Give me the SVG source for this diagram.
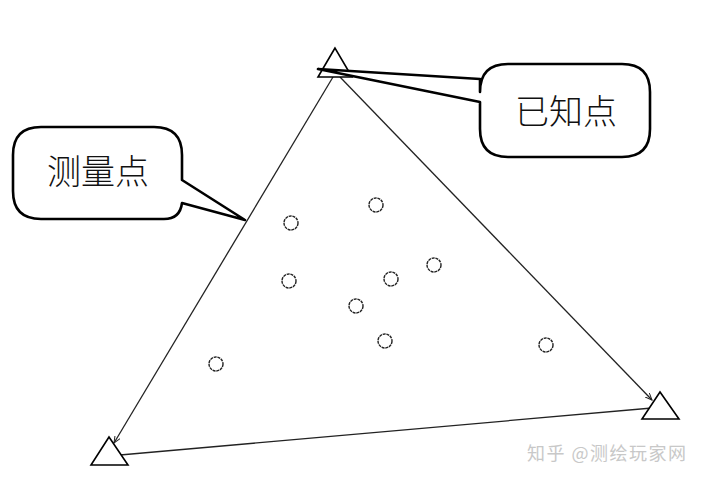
<svg xmlns="http://www.w3.org/2000/svg" width="708" height="481" viewBox="0 0 708 481">
<style>
.edge{stroke:#222;stroke-width:1.3;fill:none}
.tri{fill:#fff;stroke:#000;stroke-width:1.6}
.pt{fill:none;stroke:#222;stroke-width:1.4;stroke-dasharray:3 0.8}
.call{fill:#fff;stroke:#000;stroke-width:2.6;stroke-linejoin:round}
.lbl{font-family:"Liberation Serif","Noto Sans CJK SC",serif;font-size:34px;font-weight:300;fill:#111}
.wm{font-family:"Noto Sans CJK SC",sans-serif;font-size:18px;letter-spacing:1.5px;fill:#c8c8c8}
</style>
<defs>
<marker id="ah" markerWidth="8" markerHeight="6" refX="7" refY="3" orient="auto" markerUnits="userSpaceOnUse">
<path d="M0,0 L7,3 L0,6" fill="none" stroke="#222" stroke-width="1"/>
</marker>
</defs>
<rect width="708" height="481" fill="#fff"/>
<g id="connectors">
<line class="edge" x1="333" y1="77" x2="114" y2="443" marker-end="url(#ah)"/>
<line class="edge" x1="340" y1="77" x2="652" y2="400" marker-end="url(#ah)"/>
<line class="edge" x1="652" y1="408" x2="120" y2="455" stroke-width="2"/>
</g>
<g id="known-top"><polygon class="tri" points="335,48 318,77 352,77"/></g>
<g id="known-left"><polygon class="tri" points="109,437 91,465 128,465"/></g>
<g id="known-right"><polygon class="tri" points="660,392 642,419 679,419"/></g>
<g id="points">
<circle class="pt" cx="291" cy="223" r="7"/>
<circle class="pt" cx="376" cy="205" r="7"/>
<circle class="pt" cx="289" cy="281" r="7"/>
<circle class="pt" cx="391" cy="279" r="7"/>
<circle class="pt" cx="434" cy="265" r="7"/>
<circle class="pt" cx="356" cy="306" r="7"/>
<circle class="pt" cx="385" cy="341" r="7"/>
<circle class="pt" cx="216" cy="364" r="7"/>
<circle class="pt" cx="546" cy="345" r="7"/>
</g>
<g id="callout-known">
<path class="call" d="M508,64 H622 Q650,64 650,92 V129 Q650,157 622,157 H508 Q480,157 480,129 V102 L318,69 L480,79 V92 Q480,64 508,64 Z"/>
<text class="lbl" x="566" y="124" text-anchor="middle">已知点</text>
</g>
<g id="callout-measure">
<path class="call" d="M41,127 H154 Q182,127 182,155 V180 L245,220 L182,203 Q180,219 164,219 H41 Q13,219 13,191 V155 Q13,127 41,127 Z"/>
<text class="lbl" x="98" y="184" text-anchor="middle">测量点</text>
</g>
<text class="wm" x="527" y="460">知乎 @测绘玩家网</text>
</svg>
